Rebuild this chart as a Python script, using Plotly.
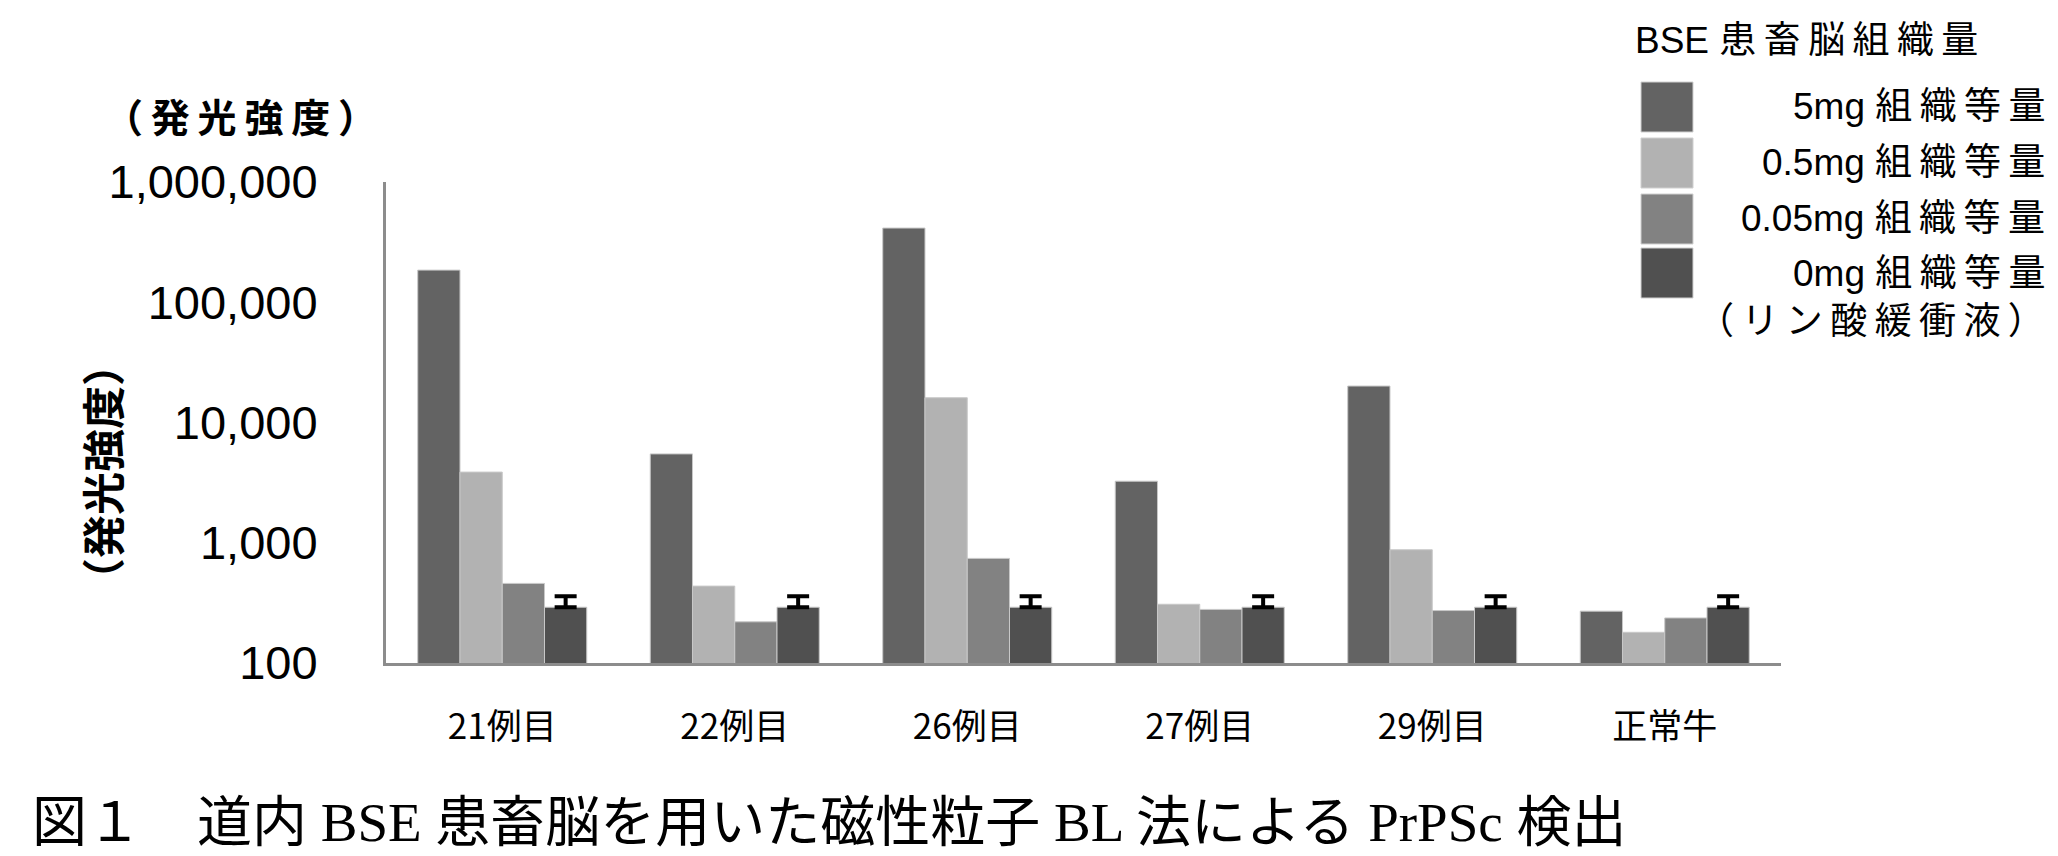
import plotly.graph_objects as go

# ---------------- data ----------------
categories = ["21例目", "22例目", "26例目", "27例目", "29例目", "正常牛"]
series_names = ["5mg 組織等量", "0.5mg 組織等量", "0.05mg 組織等量", "0mg 組織等量<br>（リン酸緩衝液）"]
vals_5mg = [185000, 5480, 414000, 3250, 20100, 270]
vals_05mg = [3870, 436, 16070, 308, 874, 180]
vals_005mg = [459, 220, 741, 279, 273, 237]
vals_0mg = [291, 291, 291, 291, 291, 291]
err_0mg = [68, 68, 68, 68, 68, 68]
tick_vals = [100, 1000, 10000, 100000, 1000000]
tick_text = ["100", "1,000", "10,000", "100,000", "1,000,000"]
legend_title = "BSE 患畜脳組織量"
y_title = "（発光強度）"
caption = "図１　道内 BSE 患畜脳を用いた磁性粒子 BL 法による PrPSc 検出"

colors = ["#636363", "#b2b2b2", "#828282", "#505050"]

# ---------------- layout geometry (page pixels) ----------------
OFF = 8  # default page body margin
W, H = 2058 - OFF, 856 - OFF
L, R, T, B = 386, 1781, 182, 663  # plot area in page pixels


def xp(px):
    return (px - L) / (R - L)


def yp(py):
    return (B - py) / (B - T)


def spaced(s):
    out = ""
    for i, ch in enumerate(s):
        out += ch
        if i < len(s) - 1 and ord(ch) > 0x2E80 and ord(s[i + 1]) > 0x2E80:
            out += "\u2009"
    return out


fig = go.Figure()
all_vals = [vals_5mg, vals_05mg, vals_005mg, vals_0mg]
for i, (name, v) in enumerate(zip(series_names, all_vals)):
    kw = {}
    if i == 3:
        kw["error_y"] = dict(type="data", symmetric=False, array=err_0mg,
                             arrayminus=[0] * len(err_0mg), color="black",
                             thickness=4, width=11)
    fig.add_trace(go.Bar(
        x=categories, y=v, name=name.replace("<br>", ""),
        marker=dict(color=colors[i], line=dict(color="#c8c8c8", width=1)),
        showlegend=False, **kw))

# gridlines (1e5 and 1e6 lines stop before the legend, as in the original)
shapes = []
for tv in tick_vals[1:]:
    x1 = 1.0 if tv <= 10000 else xp(1602)
    shapes.append(dict(type="line", xref="paper", yref="y", x0=0, x1=x1,
                       y0=len(str(tv)) - 1, y1=len(str(tv)) - 1,
                       line=dict(color="#8c8c8c", width=3), layer="below"))

# manual legend
row_tops = [82, 138, 194, 248]
for i in range(4):
    y0p, y1p = row_tops[i], row_tops[i] + 50
    shapes.append(dict(type="rect", xref="paper", yref="paper",
                       x0=xp(1641), x1=xp(1693), y0=yp(y1p), y1=yp(y0p),
                       fillcolor=colors[i], line=dict(color="#d0d0d0", width=1)))

annotations = []
annotations.append(dict(text=spaced(legend_title), xref="paper", yref="paper",
                        x=xp(1633), y=yp(40), xanchor="left", yanchor="middle",
                        showarrow=False,
                        font=dict(family="Liberation Sans, Noto Sans CJK JP", size=37, color="black")))
for i, name in enumerate(series_names):
    for j, line in enumerate(name.split("<br>")):
        annotations.append(dict(text=spaced(line), xref="paper", yref="paper",
                                x=xp(2047), y=yp(row_tops[i] + 25 + 48 * j),
                                xanchor="right", yanchor="middle", showarrow=False,
                                font=dict(family="Liberation Sans, Noto Sans CJK JP", size=37, color="black")))

# top-left unit label and rotated y title
annotations.append(dict(text="<b>" + spaced(y_title) + "</b>", xref="paper", yref="paper",
                        x=xp(240), y=yp(115), xanchor="center", yanchor="middle",
                        showarrow=False,
                        font=dict(family="Noto Sans CJK JP", size=39, color="black")))
annotations.append(dict(text="<b>" + y_title + "</b>", xref="paper", yref="paper",
                        x=xp(101), y=yp(472), xanchor="center", yanchor="middle",
                        textangle=-90, showarrow=False,
                        font=dict(family="Noto Sans CJK JP", size=43, color="black")))
# caption
annotations.append(dict(text=caption, xref="paper", yref="paper",
                        x=xp(30), y=yp(822), xanchor="left", yanchor="middle",
                        showarrow=False,
                        font=dict(family="Liberation Serif, Noto Sans CJK JP", size=55, color="black")))

fig.update_layout(
    width=W, height=H,
    margin=dict(l=L - OFF, r=W - (R - OFF), t=T - OFF, b=H - (B - OFF), pad=0),
    paper_bgcolor="white", plot_bgcolor="white",
    barmode="group", bargap=0.273, bargroupgap=0,
    shapes=shapes, annotations=annotations,
    xaxis=dict(showline=True, linecolor="#8c8c8c", linewidth=3, showgrid=False,
               ticks="", ticklabelstandoff=31,
               tickfont=dict(family="Noto Sans CJK JP", size=35, color="black")),
    yaxis=dict(type="log", range=[2, 6], showline=True, linecolor="#8c8c8c", linewidth=3,
               showgrid=False, zeroline=False, ticks="",
               tickvals=tick_vals, ticktext=tick_text, ticklabelstandoff=56,
               tickfont=dict(family="Liberation Sans", size=47, color="black")),
)

fig.write_html("out.html")
